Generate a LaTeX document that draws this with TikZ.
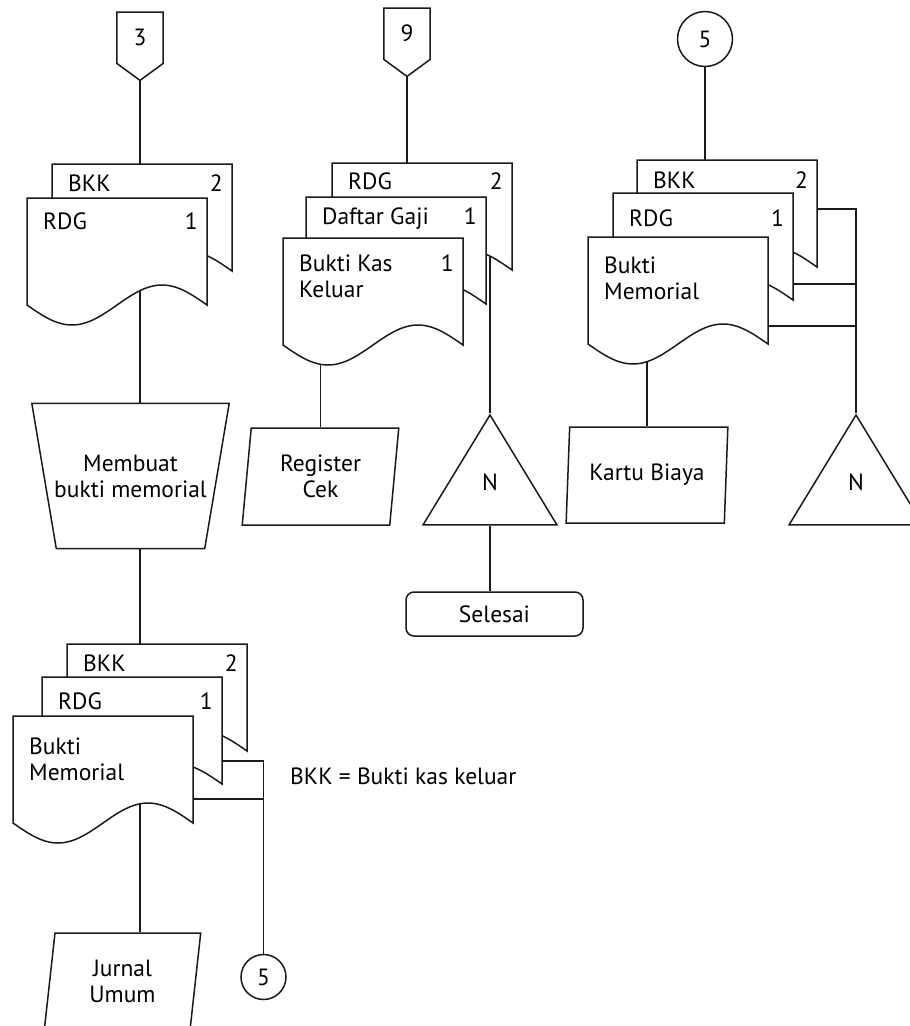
\documentclass[tikz,border=0pt]{standalone}
\usepackage{fontspec}
\setmainfont{PT Sans}
\usepackage{tikz}
\usetikzlibrary{positioning, shapes.geometric, backgrounds}
\definecolor{inkline}{HTML}{1A1A1A}

% one sheet of a document stack: name, x, y (top left), title, copy no., text drop
\newcommand{\docpage}[6]{%
  \filldraw[docline] (#2,#3) coordinate (#1-nw) -- ++(180,0) coordinate (#1-ne)
    -- ++(0,107) sin ++(-45,-20) cos ++(-45,20) sin ++(-45,20) cos ++(-45,-20) -- cycle;
  \node[doctext, anchor=north west] (#1) at (#2+16,#3+#6) {#4};
  \node[doctext, anchor=north east] (#1-no) at (#2+171,#3+#6) {#5};
}

\begin{document}
\begin{tikzpicture}[x=1pt, y=-1pt,
    conn/.style={draw=inkline, line width=1.5pt},
    docline/.style={draw=inkline, fill=white, line width=1.5pt},
    doctext/.style={font=\fontsize{23.5}{26}\selectfont, align=left, inner sep=0pt},
    txt/.style={font=\fontsize{23.5}{26}\selectfont, align=center, inner sep=0pt},
    offpage/.style={rectangle, minimum width=46pt, minimum height=51pt, inner sep=0pt, txt,
      append after command={\pgfextra{\draw[docline, fill=none] (\tikzlastnode.south west) -- (\tikzlastnode.north west)
        -- (\tikzlastnode.north east) -- (\tikzlastnode.south east) -- ([yshift=-17pt]\tikzlastnode.south)
        coordinate (\tikzlastnode-tip) -- cycle;}}},
    manual/.style={rectangle, minimum width=197pt, minimum height=145pt, inner sep=0pt, txt,
      append after command={\pgfextra{\draw[docline, fill=none] (\tikzlastnode.north west) -- (\tikzlastnode.north east)
        -- ([xshift=-24.5pt]\tikzlastnode.south east) -- ([xshift=24.5pt]\tikzlastnode.south west) -- cycle;}}},
    onpage/.style={circle, draw=inkline, fill=white, line width=1.5pt, inner sep=0pt, txt},
    inout/.style={trapezium, trapezium left angle=83, trapezium right angle=97, trapezium stretches=true, minimum width=157pt, minimum height=97pt, draw=inkline, fill=white, line width=1.5pt, txt},
    archive/.style={isosceles triangle, isosceles triangle stretches, shape border rotate=90, minimum width=134pt, minimum height=110pt, draw=inkline, fill=white, line width=1.5pt, inner sep=0pt},
    terminal/.style={rectangle, rounded corners=8pt, draw=inkline, fill=white, line width=1.5pt, minimum width=177pt, minimum height=44pt, txt},
]
\useasboundingbox (0,0) rectangle (910,1026);

% left column
\node[offpage, anchor=north] (p3) at (140,12) {3};
\docpage{bkkA}{52}{164}{BKK}{2}{11}
\docpage{rdgA}{27}{198}{RDG}{1}{15}
\node[manual] (buat) at (130.5,476) {Membuat\\bukti memorial};
\docpage{bkkD}{67}{644}{BKK}{2}{11}
\docpage{rdgD}{42}{677}{RDG}{1}{16}
\docpage{bmD}{13}{716}{Bukti\\Memorial}{}{22}
\node[inout] (jurnal) at (122.5,981.5) {Jurnal\\Umum};
\node[onpage, minimum size=45pt] (c5b) at (263.5,977) {5};
\node[doctext, anchor=west] (legend) at (290,776) {BKK = Bukti kas keluar};

% middle column
\node[offpage, anchor=north] (p9) at (407,8) {9};
\docpage{rdgB}{332}{163}{RDG}{2}{10}
\docpage{gaji}{306}{197}{Daftar Gaji}{1}{11}
\docpage{bkkB}{283}{238}{Bukti Kas\\Keluar}{1}{17}
\node[inout] (regcek) at (320.5,476.5) {Register\\Cek};
\node[archive, anchor=apex] (n1) at (490,413) {};
\node[txt] (n1t) at ([yshift=-69pt]n1.apex) {N};
\node[terminal] (selesai) at (494.5,614) {Selesai};

% right column
\node[onpage, minimum size=55pt] (c5t) at (705,39) {5};
\docpage{bkkC}{637}{160}{BKK}{2}{12}
\docpage{rdgC}{613}{193}{RDG}{1}{17}
\docpage{bmC}{588}{237}{Bukti\\Memorial}{}{20}
\node[inout, minimum width=162pt, minimum height=96pt] (kartu) at (647,475) {Kartu Biaya};
\node[archive, anchor=apex] (n2) at (856,413) {};
\node[txt] (n2t) at ([yshift=-69pt]n2.apex) {N};

% flow lines, kept behind the sheets
\begin{scope}[on background layer]
\draw[conn] (p3-tip) -- (p3-tip |- bkkA-nw);
\draw[conn] (p3-tip |- rdgA) -- (p3-tip |- buat.north);
\draw[conn] (p3-tip |- buat.south) -- (p3-tip |- bkkD-nw);
\draw[conn] (p3-tip |- bmD) -- (p3-tip |- jurnal.north);
\draw[conn] ([yshift=-84pt]rdgD-ne) -| (c5b.north);
\draw[conn] ([yshift=-83pt]bmD-ne) -- ([yshift=-83pt]bmD-ne -| c5b.north);

\draw[conn] (p9-tip) -- (p9-tip |- rdgB-nw);
\draw[conn] (n1.apex |- rdgB-nw) -- (n1.apex);
\draw[conn] (regcek.north |- bkkB) -- (regcek.north);
\draw[conn] (n1.south) -- (n1.south |- selesai.north);

\draw[conn] (c5t.south) -- (c5t.south |- bkkC-nw);
\draw[conn] (kartu.north |- bmC) -- (kartu.north);
\draw[conn] ([yshift=-49pt]bkkC-ne) -| (n2.apex);
\draw[conn] ([yshift=-91pt]rdgC-ne) -- ([yshift=-91pt]rdgC-ne -| n2.apex);
\draw[conn] ([yshift=-89pt]bmC-ne) -- ([yshift=-89pt]bmC-ne -| n2.apex);
\end{scope}
\end{tikzpicture}
\end{document}
